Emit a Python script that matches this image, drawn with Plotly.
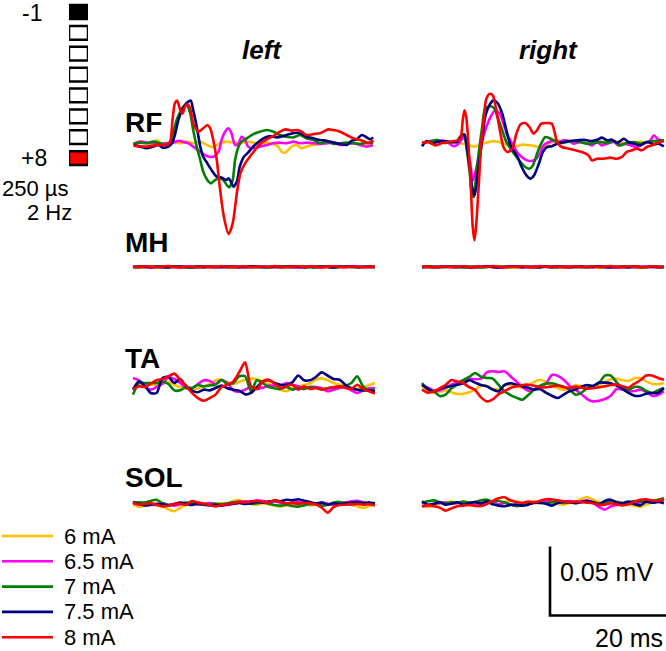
import plotly.graph_objects as go

W, H = 666, 651
FONT = "Liberation Sans, Arial, sans-serif"

# ---------------- labels / categories ----------------
CURRENTS = ["6 mA", "6.5 mA", "7 mA", "7.5 mA", "8 mA"]
COLORS = ["#FFC000", "#FF00FF", "#008000", "#000080", "#FF0000"]
MUSCLES = ["RF", "MH", "TA", "SOL"]
SIDES = ["left", "right"]
ELECTRODE_INDEX = [1, 2, 3, 4, 5, 6, 7, 8]
ELECTRODE_ROLE = ["cathode", "off", "off", "off", "off", "off", "off", "anode"]
ELECTRODE_LABELS = ["-1", "+8"]
STIM_TEXT = ["250 µs", "2 Hz"]
SCALE_MS = 20      # horizontal scale bar (ms)
SCALE_UV = 50      # vertical scale bar (µV = 0.05 mV)

# common sampling grid (ms) for MH / TA / SOL traces
T_GRID = [float(k) for k in range(42)]

# ---------------- RF left (time ms, amplitude µV) ----------------
RF_L_6_T = [0.1, 1.2, 2.3, 3.4, 4.0, 4.6, 5.7, 6.8, 8.0, 9.1, 10.2, 11.4, 12.5, 13.6, 14.7, 15.9, 17.0, 18.1, 19.3, 20.4,
            21.5, 22.7, 23.8, 24.6, 25.2, 25.8, 26.3, 26.9, 27.7, 28.6, 29.4, 30.6, 31.7, 32.8, 34.0, 35.1, 36.2, 37.3, 38.5, 39.6, 40.7]
RF_L_6_V = [0, 1.7, 0.5, 1.0, 2.9, 1.0, 0.5, 1.7, 0.5, 1.7, 0.5, 1.7, -0.7, -2.4, 0.5, 1.7, 1.0, 0.5, 1.7, 1.0,
            0.5, 1.0, 0, -1.9, -5.6, -6.3, -4.3, -1.9, -0.7, -3.1, -1.9, -0.7, 0, 0.5, 1.0, 0, 0.5, 1.0, 0, 0.5, 0.5]
RF_L_65_T = [0.1, 1.2, 2.3, 3.4, 4.6, 5.7, 6.8, 7.7, 8.5, 9.4, 10.2, 11.4, 12.5, 13.6, 14.5, 15.0, 15.6, 16.2, 16.7, 17.3,
             17.9, 18.4, 19.0, 19.5, 20.4, 21.5, 22.7, 23.8, 24.9, 26.0, 27.2, 28.3, 29.4, 30.6, 31.7, 32.8, 34.0, 35.1, 36.2,
             37.3, 38.5, 39.6, 40.7]
RF_L_65_V = [0, 1.7, 1.0, 0.5, 0, 0.5, 1.0, 2.4, 1.7, 0.5, -1.9, -5.6, -8.7, -9.2, -5.6, 2.9, 8.9, 11.4, 7.7, -0.7,
             0.5, 5.3, 2.9, -1.9, -3.1, -1.9, -0.7, 0.5, 1.0, 0.5, 1.7, 0.5, 1.0, 0.5, 0, 0.5, 1.0, -0.7, 0,
             0.5, -0.7, -1.9, -0.7]
RF_L_7_T = [0.1, 1.2, 2.3, 3.4, 4.6, 5.7, 6.4, 6.8, 7.4, 8.0, 8.5, 9.1, 9.7, 10.2, 10.8, 11.4, 11.9, 12.6, 13.2, 13.9,
            14.6, 15.3, 15.9, 16.3, 16.9, 17.3, 17.9, 18.4, 19.3, 20.4, 21.5, 22.7, 23.8, 24.9, 26.0, 27.2, 28.3, 29.4,
            30.6, 31.7, 32.8, 34.0, 35.1, 36.2, 37.3, 38.5, 39.6, 40.7]
RF_L_7_V = [0, 1.0, 0.5, 1.7, 0.5, -0.7, 1.7, 7.7, 17.4, 23.4, 27.1, 28.3, 22.2, 10.1, -1.9, -11.6, -20.0, -26.1, -28.5, -26.1,
            -24.9, -26.1, -29.7, -31.4, -26.1, -11.6, -1.9, 1.7, 4.1, 7.2, 8.9, 10.1, 8.9, 6.5, 5.3, 4.8, 6.5, 4.1,
            2.9, 0.5, 1.7, 0, 0.5, 1.0, 0.5, 0, 1.0, 0.5]
RF_L_75_T = [0.1, 1.2, 2.3, 3.4, 4.3, 5.1, 6.0, 6.6, 7.1, 7.7, 8.2, 8.8, 9.4, 9.8, 10.2, 10.8, 11.4, 11.9, 12.6, 13.3,
             14.2, 15.0, 15.8, 16.2, 16.6, 17.0, 17.6, 18.1, 18.8, 19.5, 20.1, 21.0, 22.1, 23.2, 24.4, 25.5, 26.6, 27.7,
             28.6, 29.4, 30.6, 31.7, 32.8, 34.0, 35.1, 36.2, 37.1, 37.9, 38.8, 39.6, 40.2, 40.7]
RF_L_75_V = [-0.7, -1.9, -3.1, -1.9, -0.7, -2.7, -1.9, 0.5, 6.5, 17.4, 23.4, 28.3, 30.7, 31.4, 24.6, 12.6, -1.9, -9.2, -14.0, -18.8,
             -23.7, -24.2, -26.1, -24.9, -27.3, -30.9, -27.3, -16.4, -9.2, -6.3, -3.1, 0.5, 4.1, 5.8, 4.8, 5.8, 7.2, 8.2,
             7.2, 5.3, 4.1, 2.9, 2.4, 1.0, 0, -0.7, 2.4, 3.4, 6.5, 4.8, 3.4, 4.8]
RF_L_8_T = [0.1, 2.3, 4.0, 5.7, 6.3, 6.7, 7.1, 7.5, 8.0, 8.4, 8.8, 9.2, 9.7, 10.2, 11.1, 11.9, 12.6, 13.1, 13.6, 14.2,
            14.7, 15.4, 16.2, 16.9, 17.6, 18.2, 19.0, 19.8, 20.7, 21.5, 22.7, 23.8, 24.9, 25.8, 26.9, 27.7, 28.6, 29.4,
            30.6, 31.7, 33.1, 34.0, 35.1, 36.2, 37.3, 38.5, 39.3, 39.9, 40.5, 40.7]
RF_L_8_V = [-1.2, -1.9, -0.7, -0.7, 1.7, 17.4, 29.5, 31.4, 24.6, 22.2, 27.1, 29.0, 25.8, 15.0, 8.9, 11.4, 13.8, 11.4, 2.9, -11.6,
            -30.9, -52.7, -65.2, -57.5, -35.7, -21.3, -14.0, -9.2, -4.3, 0, 3.4, 5.8, 8.9, 10.6, 9.7, 10.1, 8.9, 6.5,
            7.2, 7.7, 10.6, 10.1, 8.9, 6.5, 4.1, 2.9, 1.7, 0.5, 2.4, 1.2]

# ---------------- RF right ----------------
RF_R_6_V = [0, 0.7, 1.2, 1.0, 0.5, 0.5, 0.2, -0.8, -1.6, -2.6, -0.8, 0.4, 1.3, 0.7, -0.7, -1.7, -2.3, -1.2, -1.5, -2.1,
            -3.2, -2.5, 0.8, 1.9, 1.0, 1.2, 0.2, 0.7, -0.2, 0.5, 1.2, 0.5, 0.7, 1.2, 0.2, -0.3, 0.5, 1.0, 0.2, 0.7, 1.2, 1.0]
RF_R_65_T = [0, 1.4, 2.8, 4.2, 5.4, 6.2, 7.1, 7.6, 8.2, 8.6, 9.0, 9.6, 10.2, 10.9, 11.6, 12.4, 13.2, 13.8, 14.5, 15.3,
             16.1, 16.9, 17.8, 18.6, 19.4, 20.1, 20.6, 21.5, 22.3, 23.2, 24.0, 24.9, 25.7, 26.8, 28.0, 28.8, 29.7, 30.5,
             31.4, 32.5, 33.3, 34.2, 35.3, 36.4, 37.6, 38.7, 39.3, 40.1, 41.0]
RF_R_65_V = [0, 1.4, 1.9, 0.7, -2.4, -0.5, 4.3, -1.7, -15.0, -27.1, -22.2, -10.1, 1.9, 11.6, 18.8, 23.7, 21.3, 14.0, 5.6, -0.5,
             -6.5, -10.1, -12.6, -13.0, -11.4, -6.5, -1.7, 0.7, 1.4, 0.7, 1.9, 1.4, -0.5, 0.7, -0.5, -1.7, 0.7, -1.7,
             -0.5, 0.7, -1.7, -0.5, -1.7, -2.9, -0.5, 1.9, 5.6, 2.4, 1.9]
RF_R_7_T = [0, 1.1, 2.5, 3.7, 4.8, 5.9, 6.8, 7.2, 7.6, 8.1, 8.5, 8.8, 9.1, 9.6, 10.2, 10.7, 11.6, 12.3, 12.8, 13.6,
            14.3, 15.0, 15.8, 16.7, 17.5, 18.2, 18.8, 19.5, 20.2, 20.9, 21.8, 22.6, 23.4, 24.6, 25.7, 26.8, 28.0, 29.1,
            30.2, 31.4, 32.5, 33.6, 34.7, 35.9, 37.0, 38.1, 39.3, 41.0]
RF_R_7_V = [0, 0.7, 2.4, 0, 0.7, 1.4, 6.3, 5.6, -5.3, -22.2, -37.9, -39.1, -27.1, -7.7, 11.6, 24.9, 26.6, 24.9, 18.8, 9.2,
            0.7, -4.1, -8.9, -13.8, -17.4, -18.6, -16.2, -7.7, -0.5, 4.3, 3.1, 1.4, 0, 0.7, 1.4, 0.7, -0.5, 0,
            0.7, 0, 1.4, -1.7, 0, 0.7, -0.5, 0.7, 1.4, 1.9]
RF_R_75_T = [0, 0.8, 1.7, 2.5, 3.7, 4.8, 5.9, 6.8, 7.2, 7.6, 8.1, 8.5, 8.9, 9.2, 9.6, 10.2, 10.7, 11.5, 12.1, 12.8,
             13.6, 14.3, 14.9, 15.5, 16.2, 16.9, 17.7, 18.4, 19.0, 19.8, 20.5, 21.2, 22.0, 22.9, 24.0, 25.1, 26.3, 27.4,
             28.5, 29.7, 30.5, 31.4, 32.2, 33.1, 34.2, 35.0, 35.9, 37.0, 38.1, 39.3, 40.1, 41.0]
RF_R_75_V = [-2.4, 1.4, -0.5, 0.7, 1.4, 0.7, 0.7, 5.6, 6.3, -2.9, -17.4, -31.9, -37.9, -31.9, -17.4, 1.9, 18.8, 28.0, 30.9, 29.0,
             21.3, 9.2, -0.5, -5.3, -10.1, -17.4, -23.4, -25.8, -23.4, -15.0, -6.5, -2.9, -2.4, -0.5, 0.7, 1.4, 1.9, 2.4,
             1.4, 2.4, 3.9, 1.9, 2.4, 0, 3.1, 0.7, -0.5, -1.7, 0.7, -1.0, -0.5, -2.4]
RF_R_8_T = [0, 1.1, 2.3, 3.4, 4.5, 5.6, 6.5, 6.9, 7.2, 7.5, 7.9, 8.3, 8.6, 8.9, 9.2, 9.6, 10.0, 10.5, 10.9, 11.5,
            12.0, 12.6, 13.2, 13.8, 14.5, 15.3, 16.0, 16.7, 17.5, 18.2, 18.9, 19.5, 20.2, 21.2, 22.0, 22.4, 22.9, 23.7,
            24.9, 26.0, 27.1, 28.2, 28.8, 29.7, 30.8, 31.9, 33.1, 33.9, 34.7, 35.6, 36.4, 37.3, 38.1, 39.0, 39.8, 41.0]
RF_R_8_V = [0, 0.7, -1.7, 0, 0.7, 1.4, 3.1, 16.4, 23.7, 18.8, -2.9, -34.3, -60.9, -70.5, -58.5, -31.9, -2.9, 18.8, 32.1, 35.7,
            34.5, 23.7, 9.2, -2.9, -6.5, -4.1, 6.8, 13.5, 14.5, 11.6, 6.8, 9.2, 14.0, 14.5, 14.0, 9.2, 0.7, -2.9,
            -4.1, -5.3, -6.5, -8.9, -12.6, -11.4, -11.4, -10.6, -11.4, -10.1, -6.5, -5.3, -4.1, -5.3, -2.9, -1.7, 0, 1.4]

# ---------------- MH (µV on T_GRID) ----------------
MH_L_6 = [0.3, 0.0, -0.3, 0.2, 0.5, 0.0, -0.4, 0.2, 0.3, -0.2, 0.0, 0.4, 0.2, -0.3, 0.0, 0.3, 0.5, 0.1, -0.2, 0.0,
          0.3, -0.1, 0.2, 0.4, 0.0, -0.3, 0.1, 0.3, 0.0, -0.2, 0.2, 0.4, 0.1, -0.1, 0.2, 0.0, -0.3, 0.1, 0.3, 0.0, 0.2, 0.0]
MH_L_65 = [-0.2, 0.3, 0.1, -0.4, 0.0, 0.4, 0.2, -0.1, -0.3, 0.2, 0.4, 0.0, -0.3, 0.1, 0.3, -0.2, 0.0, 0.4, 0.1, -0.3,
           0.0, 0.3, 0.5, 0.0, -0.2, 0.2, 0.4, -0.1, -0.3, 0.1, 0.3, 0.0, -0.2, 0.2, 0.4, 0.1, -0.2, 0.0, 0.3, 0.1, -0.2, 0.1]
MH_L_7 = [0.1, -0.3, 0.2, 0.4, 0.0, -0.2, 0.3, 0.5, 0.1, -0.3, 0.2, 0.3, -0.1, 0.0, 0.4, 0.2, -0.3, 0.0, 0.3, 0.1,
          -0.2, 0.2, 0.0, -0.3, 0.3, 0.5, 0.0, -0.2, 0.2, 0.4, 0.0, -0.3, 0.1, 0.3, -0.1, 0.2, 0.4, 0.0, -0.2, 0.2, 0.1, -0.1]
MH_L_75 = [0.0, 0.4, 0.1, -0.2, 0.3, 0.0, -0.3, 0.2, 0.4, 0.0, -0.4, 0.1, 0.3, 0.2, -0.2, 0.0, 0.4, 0.1, -0.3, 0.2,
           0.5, 0.1, -0.2, 0.0, 0.3, -0.1, 0.2, 0.5, 0.1, -0.3, 0.0, 0.2, 0.4, 0.0, -0.3, 0.1, 0.2, 0.4, -0.1, 0.0, 0.3, 0.0]
MH_L_8 = [0.4, 0.0, 0.5, 0.1, -0.2, 0.3, 0.6, 0.0, -0.3, 0.4, 0.2, -0.2, 0.5, 0.1, 0.0, 0.6, 0.2, -0.2, 0.3, 0.5,
          0.0, -0.1, 0.4, 0.2, 0.6, 0.0, -0.2, 0.3, 0.5, 0.1, 0.4, 0.0, -0.3, 0.3, 0.5, 0.2, 0.0, 0.4, 0.1, -0.2, 0.3, 0.2]
MH_R_6 = [0.0, 0.2, 0.0, 0.3, 0.1, -0.3, 0.0, 0.2, -0.1, 0.1, 0.4, 0.2, -0.2, 0.0, 0.3, 0.1, -0.3, -0.1, 0.4, 0.2,
          0.0, 0.3, -0.1, 0.2, 0.0, -0.2, 0.1, 0.5, 0.3, 0.0, -0.3, 0.2, 0.4, 0.0, -0.2, 0.3, 0.2, -0.4, 0.0, 0.5, 0.2, -0.3]
MH_R_65 = [0.1, -0.2, 0.1, 0.3, 0.0, -0.2, 0.1, 0.4, 0.2, -0.2, 0.0, 0.3, 0.1, -0.3, -0.1, 0.4, 0.2, 0.0, -0.2, 0.5,
           0.3, 0.0, -0.3, 0.1, 0.4, 0.0, -0.2, 0.3, 0.1, -0.3, 0.2, 0.4, 0.0, -0.3, 0.1, 0.2, -0.1, 0.0, 0.4, 0.1, -0.4, 0.0]
MH_R_7 = [-0.1, 0.1, 0.2, -0.2, 0.0, 0.4, 0.2, -0.1, 0.3, 0.1, -0.3, 0.0, 0.4, 0.2, 0.0, -0.2, 0.3, 0.5, 0.0, -0.2,
          0.1, 0.3, 0.0, -0.3, 0.1, 0.3, 0.0, -0.1, 0.2, 0.4, 0.0, -0.2, 0.2, -0.1, 0.3, 0.5, 0.1, -0.3, 0.2, 0.4, -0.3, 0.1]
MH_R_75 = [0.0, 0.3, -0.1, 0.0, 0.4, 0.2, -0.1, 0.1, -0.3, 0.0, 0.2, 0.4, 0.0, -0.3, 0.1, 0.5, 0.2, -0.1, 0.2, 0.0,
           -0.3, 0.2, 0.1, 0.4, 0.0, -0.2, 0.2, 0.3, -0.2, 0.1, 0.4, 0.0, -0.3, 0.2, 0.0, -0.4, 0.3, 0.2, -0.2, 0.1, 0.4, 0.0]
MH_R_8 = [0.2, 0.3, -0.2, 0.1, 0.4, 0.0, 0.2, 0.5, -0.3, 0.1, 0.3, 0.0, 0.6, 0.2, -0.2, 0.3, 0.1, 0.5, 0.0, -0.3,
          0.6, 0.2, 0.4, 0.0, -0.1, 0.2, 0.5, 0.1, 0.0, 0.5, -0.2, 0.2, 0.6, -0.1, 0.1, 0.5, 0.3, -0.2, 0.0, 0.5, 0.0, 0.4]

# ---------------- TA (µV on T_GRID) ----------------
TA_L_6 = [0, 1.2, 3.1, 2.4, 2.4, 3.1, 4.4, 2.4, 0.7, -0.2, -1.2, -0.2, 1.2, 2.9, 5.6, 6.0, 4.1, 2.9, 4.4, 6.0,
          7.0, 6.3, 4.8, 2.9, 0.7, -1.2, -2.4, 0, 1.2, 2.2, 3.4, 6.0, 7.0, 5.6, 3.6, 2.4, 1.2, 0, -0.7, 0.2, 2.2, 3.6]
TA_L_65 = [7.3, 5.6, 0.7, -1.2, 0.7, 3.1, 8.0, 6.5, 3.6, 0, -0.2, 2.9, 5.6, 5.1, 2.9, 5.6, 3.6, -1.7, -2.7, -1.2,
           0.7, -0.7, 0.2, 1.7, 1.7, 1.7, 3.6, 2.4, 1.2, 0, 0.7, 0.7, -0.2, -2.4, -1.2, 0, 0.7, -1.7, -3.6, -1.7, -0.2, 0]
TA_L_7 = [-4.8, 3.6, 3.6, 3.6, 3.6, 4.6, 2.9, -1.7, -1.7, 0.7, 0, 2.2, 1.2, 1.9, 2.4, 6.0, 2.9, 3.6, 8.5, 8.5,
          -2.4, 5.6, 3.6, 0.7, -0.2, -0.7, 0.7, -1.2, 0, -0.7, 0.7, 0, -0.7, -0.2, 0.5, 0.7, 1.7, 3.6, 8.5, 1.2, -1.7, -1.2]
TA_L_75 = [-1.2, 4.8, 1.7, -3.6, -3.6, 7.3, 8.0, 3.6, 6.5, 1.2, -1.9, -3.1, -1.2, -1.7, 0, 1.7, -0.2, -1.2, -1.9, -4.6,
           -3.6, 0.7, 4.8, 5.6, 3.6, 2.4, 2.4, 4.1, 9.0, 5.6, 5.6, 8.0, 11.4, 9.0, 6.5, 6.0, 2.4, -0.2, -1.2, -1.7, -1.9, -2.7]
TA_L_8 = [-1.2, 1.2, 0.7, 3.1, 5.6, 6.5, 8.5, 10.4, 6.0, 1.7, -3.6, -7.3, -9.2, -7.3, -4.8, 0.7, 2.4, 4.8, 11.4, 18.6,
          1.2, -0.7, 4.8, 6.0, 3.1, 0, 1.2, 2.4, -1.2, 1.2, -0.7, 0, -1.2, -0.2, 0.7, 1.2, 0, -0.7, 2.4, -0.7, -2.4, -4.1]
TA_R_6 = [1.2, -1.7, -3.6, -2.7, -1.7, -3.1, -4.4, -4.1, -3.1, -1.2, 1.7, 1.5, -0.5, -1.0, 1.7, 2.4, 1.2, 0, 1.9, 4.4,
          6.0, 4.4, 1.7, 0, -1.2, -0.5, 1.9, 1.5, 0.2, 0.7, 2.2, 4.4, 6.3, 6.8, 5.6, 5.1, 7.0, 7.3, 4.8, 3.1, 2.7, 3.6]
TA_R_65 = [2.4, 0.2, -1.9, -1.7, 0.2, 2.4, 4.1, 5.6, 6.8, 6.3, 6.8, 11.4, 12.1, 11.6, 12.1, 8.5, 4.8, 0.7, -1.9, -1.2,
           0.7, 3.1, 9.4, 8.9, 6.0, 1.7, -1.2, -4.4, -8.0, -9.7, -9.2, -8.0, -5.6, -0.7, -1.2, -2.4, -2.2, -1.2, -2.7, -5.6, -5.1, -2.4]
TA_R_7 = [3.6, -1.2, -2.4, -5.8, -4.8, -0.2, 2.7, 5.8, 8.0, 10.9, 8.2, 7.3, 6.8, 2.2, -2.4, -5.1, -7.0, -8.5, -5.1, -1.2,
          1.7, 3.1, 3.4, 2.2, 1.0, -1.2, -4.8, -3.6, 0, 1.5, 3.6, 9.0, 9.0, 4.1, 0.2, -1.2, 0.7, 0.5, -2.2, -3.6, -1.7, 0]
TA_R_75 = [2.4, -0.5, -2.4, -0.7, 0.5, 1.5, 2.4, 3.4, 5.6, 3.9, 2.2, 1.2, -1.2, -2.4, 2.2, 3.4, 2.4, 1.2, 0.2, -1.2,
           -0.7, -3.4, -5.6, -7.3, -4.8, -2.4, -1.2, 1.0, 2.2, 1.5, 3.9, 3.9, 3.4, 1.7, -0.7, -3.6, -5.6, -5.6, -4.1, -3.6, -3.6, 0]
TA_R_8 = [-1.2, -3.4, -2.4, -0.2, 2.2, 5.8, 4.6, 3.4, 0.7, -1.5, -6.8, -9.7, -8.2, -4.4, -2.4, 0, 1.2, 2.2, 2.4, 1.7,
          0.5, 0.5, 1.2, 1.7, 0.7, 0, 1.0, 0.2, -0.5, -0.2, 0.5, 1.2, 2.2, 2.4, 1.2, 0.2, 3.1, 5.6, 9.0, 9.0, 7.3, 6.0]

# ---------------- SOL (µV on T_GRID) ----------------
SOL_L_6 = [-0.5, -1.9, -1.2, -0.2, -1.0, -1.9, -3.9, -5.3, -2.7, -0.7, -0.2, 1.0, 0.2, -0.5, 0, 0.7, -0.2, 2.2, 2.9, 1.2,
           0, -0.5, 0.5, -0.2, -1.2, -1.7, -1.0, 0, 0.7, -0.2, -1.0, -0.5, 0.7, 0, -1.0, -0.5, 0.2, -0.7, -1.7, -2.9, -1.5, -0.2]
SOL_L_65 = [0.2, 1.0, 0, -0.7, -0.2, 0.5, -0.5, -1.2, -0.2, 0.7, 0.2, -0.5, 0, 0.7, 0, -1.0, -0.7, 0.2, 1.0, 1.9,
            1.5, 2.7, 2.2, 1.5, 1.9, 1.0, 0.2, 1.0, 1.5, 0.5, -0.2, 0.2, 1.0, 0.2, -0.5, 0.5, 1.0, 1.9, 2.4, 1.2, 0.2, 0.7]
SOL_L_7 = [0.5, 1.2, 1.0, 2.2, 3.1, 0.5, -0.7, -0.2, 0.5, 1.0, 0.7, 0, -0.7, -0.5, 0.2, -0.2, 0.5, 1.2, 1.7, 1.0,
           0.2, 0.5, 1.2, 0.2, -0.7, -1.2, -0.5, -1.5, -1.9, -1.0, 0.2, -0.2, -1.2, -0.5, 1.0, 1.5, 0.5, -0.2, 0.2, 1.0, 0, 0.5]
SOL_L_75 = [1.5, -0.2, -1.0, -0.5, 0.2, -0.2, -1.0, 0, 1.0, 0.2, -0.7, 0.5, -0.2, -1.0, -0.5, -1.2, -0.2, 0.2, 0.7, 0,
            0.5, 1.5, 1.0, 1.7, 2.4, 1.9, 3.1, 2.7, 3.4, 2.4, 1.5, 0.5, 1.0, -0.5, 0.5, -0.2, 0.7, 1.0, 1.5, 0.5, 1.2, 0.2]
SOL_L_8 = [1.0, -0.5, 0, 0.5, -0.5, -1.7, -1.2, 0, 0.2, -0.5, 2.2, 1.0, 0.2, -0.7, -1.7, -0.7, 0, 0.5, 1.5, 1.2,
           1.9, 2.2, 1.5, 1.0, 2.9, 1.5, 0.5, 0.7, 0.2, 0.7, 0.5, -0.2, -2.7, -6.3, -2.2, -0.7, -0.5, -0.2, 0, -0.5, -0.2, -1.0]
SOL_R_6 = [-1.9, -2.9, -1.9, -0.5, 0.5, 1.0, 0, 1.2, 0, -1.0, 0.5, 1.2, 0.2, -1.0, 0.5, 1.9, 1.0, -0.5, 0.5, 1.2,
           0.7, 1.5, 0.5, -0.5, -1.2, 0, 1.0, 2.9, 4.4, 2.4, 0.5, -0.5, 0.5, 1.0, 0, -1.0, -1.9, -2.9, -1.2, 0.5, 1.2, 1.9]
SOL_R_65 = [-2.4, -1.7, -0.7, 0, 0.5, -0.5, 0, 0.5, -0.2, -0.7, 0, 0.7, -0.2, -1.0, 0, -1.0, -1.9, -1.5, -0.5, 0.5,
            1.0, 1.9, 1.0, 0.2, 1.0, 1.5, 0.7, 1.2, 1.9, 0, -2.9, -4.8, -2.4, -1.5, -0.7, 0, -0.7, 0.5, 1.0, 0.5, 1.0, 1.5]
SOL_R_7 = [0, 1.2, 1.9, 0.5, -0.5, 0.5, 0, 1.0, 0.2, 0.7, 1.9, 2.4, 1.0, 1.5, 0.5, -1.0, -2.4, -1.7, -0.7, 0,
           0.5, -0.2, 0.5, 0.7, 0, 0.5, -0.2, 0.7, 1.5, 0.5, -0.2, 0.5, 1.5, 0.2, -0.5, 0.5, 1.5, 1.0, 1.9, 1.5, 2.4, 3.4]
SOL_R_75 = [1.2, -1.2, -0.5, 0.5, -1.2, -0.5, 0.5, -1.2, 0, 0.7, -0.5, 1.2, -1.0, -1.9, -2.4, -1.5, -1.2, -1.9, -1.2, 0.2,
            0, -0.5, -1.9, 0, 1.0, 0.5, 0, 0.7, 1.5, 0.5, -1.2, 1.5, 2.4, 0.5, 0, 1.0, -0.7, -1.7, 1.0, 0.2, 0.7, -0.2]
SOL_R_8 = [-2.4, -1.5, -2.4, -3.4, -5.6, -3.9, -2.4, -1.9, -1.5, -2.2, -2.2, -0.7, 1.5, 3.4, 4.1, 1.9, 0.7, 0.2, 1.0, 0.5,
           1.5, 2.7, 2.7, 1.9, 1.2, 0.5, 1.0, 0.5, 0.2, -0.2, -1.2, -1.2, -0.2, -1.0, -1.7, -1.0, 1.0, 2.4, 2.7, 1.9, 1.5, 2.9]

# panel -> list of (time, values) in current order (6, 6.5, 7, 7.5, 8 mA)
PANELS = {
    ("RF", "left"): [(RF_L_6_T, RF_L_6_V), (RF_L_65_T, RF_L_65_V), (RF_L_7_T, RF_L_7_V),
                     (RF_L_75_T, RF_L_75_V), (RF_L_8_T, RF_L_8_V)],
    ("RF", "right"): [(T_GRID, RF_R_6_V), (RF_R_65_T, RF_R_65_V), (RF_R_7_T, RF_R_7_V),
                      (RF_R_75_T, RF_R_75_V), (RF_R_8_T, RF_R_8_V)],
    ("MH", "left"): [(T_GRID, v) for v in (MH_L_6, MH_L_65, MH_L_7, MH_L_75, MH_L_8)],
    ("MH", "right"): [(T_GRID, v) for v in (MH_R_6, MH_R_65, MH_R_7, MH_R_75, MH_R_8)],
    ("TA", "left"): [(T_GRID, v) for v in (TA_L_6, TA_L_65, TA_L_7, TA_L_75, TA_L_8)],
    ("TA", "right"): [(T_GRID, v) for v in (TA_R_6, TA_R_65, TA_R_7, TA_R_75, TA_R_8)],
    ("SOL", "left"): [(T_GRID, v) for v in (SOL_L_6, SOL_L_65, SOL_L_7, SOL_L_75, SOL_L_8)],
    ("SOL", "right"): [(T_GRID, v) for v in (SOL_R_6, SOL_R_65, SOL_R_7, SOL_R_75, SOL_R_8)],
}
for key, series in PANELS.items():
    for t, v in series:
        assert len(t) == len(v), (key, len(t), len(v))

# ---------------- geometry (pixels) ----------------
PX_MS = 5.9     # pixels per ms
PX_UV = 1.38    # pixels per µV
COL_X0 = {"left": 133, "right": 422}
BASELINE = {("RF", "left"): 144, ("RF", "right"): 143, ("MH", "left"): 267, ("MH", "right"): 267,
            ("TA", "left"): 388, ("TA", "right"): 388, ("SOL", "left"): 504, ("SOL", "right"): 503}
BAND = {"RF": (72, 104), "MH": (20, 20), "TA": (32, 32), "SOL": (22, 22)}


def fx(p):
    return p / W


def fy(p):
    return 1 - p / H


layout_axes = {}


def ax_names(n):
    return ("x" if n == 1 else f"x{n}"), ("y" if n == 1 else f"y{n}")


def add_axes(n, xpx, xr, ypx, yr):
    xa, ya = ax_names(n)
    layout_axes["xaxis" if n == 1 else f"xaxis{n}"] = dict(
        domain=[fx(xpx[0]), fx(xpx[1])], range=xr, visible=False, anchor=ya, fixedrange=True)
    layout_axes["yaxis" if n == 1 else f"yaxis{n}"] = dict(
        domain=[fy(ypx[1]), fy(ypx[0])], range=yr, visible=False, anchor=xa, fixedrange=True)
    return xa, ya


fig = go.Figure()
n = 0
for m in MUSCLES:
    for side in SIDES:
        n += 1
        x0 = COL_X0[side]
        b = BASELINE[(m, side)]
        up, down = BAND[m]
        xl, xr = x0 - 6, min(W, x0 + 248)
        xa, ya = add_axes(n, (xl, xr), [(xl - x0) / PX_MS, (xr - x0) / PX_MS],
                          (b - up, b + down), [-down / PX_UV, up / PX_UV])
        for i, (t, v) in enumerate(PANELS[(m, side)]):
            fig.add_trace(go.Scatter(
                x=t, y=v, mode="lines", name=CURRENTS[i], showlegend=False,
                line=dict(color=COLORS[i], width=2.6, shape="spline", smoothing=0.7),
                xaxis=xa, yaxis=ya, hoverinfo="skip"))

# scale bar axes
n += 1
SB_X0, SB_Y0 = 550, 615.5
xa, ya = add_axes(n, (540, W), [(540 - SB_X0) / PX_MS, (W - SB_X0) / PX_MS],
                  (538, 625), [-(625 - SB_Y0) / PX_UV, (SB_Y0 - 538) / PX_UV])
fig.add_trace(go.Scatter(x=[0, 0, SCALE_MS], y=[SCALE_UV, 0, 0], mode="lines",
                         line=dict(color="black", width=2.6), showlegend=False,
                         xaxis=xa, yaxis=ya, hoverinfo="skip"))

# electrode configuration column
n += 1
E_TOP, E_PITCH = 12, 20.86
xa, ya = add_axes(n, (69, 88), [0, 1],
                  (E_TOP - 0.5 * E_PITCH, E_TOP + 7.5 * E_PITCH), [8.5, 0.5])
ROLE_FILL = {"cathode": "black", "off": "white", "anode": "#FF0000"}
fig.add_trace(go.Bar(orientation="h", y=ELECTRODE_INDEX, x=[1] * len(ELECTRODE_INDEX),
                     base=0, width=0.66,
                     marker=dict(color=[ROLE_FILL[r] for r in ELECTRODE_ROLE],
                                 line=dict(color="black", width=2.5)),
                     showlegend=False, xaxis=xa, yaxis=ya, hoverinfo="skip"))

# legend (drawn as line samples in its own axes)
n += 1
LG_ROW0, LG_PITCH, LG_X0, LG_LEN = 536, 25.3, 2, 51
lxa, lya = add_axes(n, (0, 200), [-LG_X0 / LG_LEN, (200 - LG_X0) / LG_LEN],
                    (522, H), [(H - LG_ROW0) / LG_PITCH, (522 - LG_ROW0) / LG_PITCH])
for k, name in enumerate(CURRENTS):
    fig.add_trace(go.Scatter(x=[0, 1], y=[k, k], mode="lines", name=name, showlegend=False,
                             line=dict(color=COLORS[k], width=2.6),
                             xaxis=lxa, yaxis=lya, hoverinfo="skip"))

# ---------------- text ----------------
ann = []


def text(s, x, y, size, xanchor="left", bold=False, italic=False):
    if italic:
        s = f"<i>{s}</i>"
    if bold:
        s = f"<b>{s}</b>"
    ann.append(dict(text=s, x=fx(x), y=fy(y), xref="paper", yref="paper", showarrow=False,
                    xanchor=xanchor, yanchor="middle",
                    font=dict(family=FONT, size=size, color="black")))


text(ELECTRODE_LABELS[0], 20, 13, 23)
text(ELECTRODE_LABELS[1], 19, 158, 23)
text(STIM_TEXT[0], 0, 189, 22)
text(STIM_TEXT[1], 74, 212, 22, xanchor="right")
text(SIDES[0], 262, 50, 26, xanchor="center", bold=True, italic=True)
text(SIDES[1], 548, 50, 26, xanchor="center", bold=True, italic=True)
ROW_LABEL_Y = {"RF": 122, "MH": 242, "TA": 358, "SOL": 477}
for m in MUSCLES:
    text(m, 123, ROW_LABEL_Y[m], 28, bold=True)
for k, name in enumerate(CURRENTS):
    ann.append(dict(text=name, x=(62 - LG_X0) / LG_LEN, y=k, xref=lxa, yref=lya, showarrow=False,
                    xanchor="left", yanchor="middle", font=dict(family=FONT, size=22, color="black")))
text(f"{SCALE_UV / 1000:.2f} mV", 558, 572, 25)
text(f"{SCALE_MS} ms", 665, 638, 25, xanchor="right")

fig.update_layout(
    width=W, height=H, autosize=False,
    margin=dict(l=0, r=0, t=0, b=0),
    paper_bgcolor="white", plot_bgcolor="rgba(0,0,0,0)",
    showlegend=False, annotations=ann, bargap=0,
    font=dict(family=FONT),
    **layout_axes,
)

# remove the browser's default 8px page margin so the figure fills the window exactly
fig.write_html("out.html", config={"displayModeBar": False, "staticPlot": True},
               post_script="document.body.style.margin='0px';document.body.style.overflow='hidden';")
